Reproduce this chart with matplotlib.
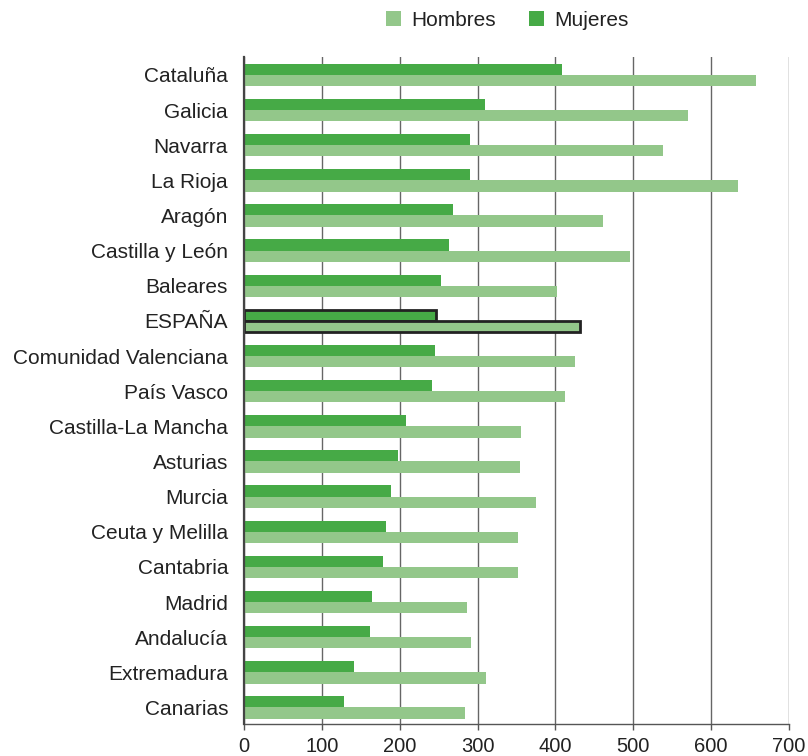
import matplotlib
matplotlib.use("Agg")
import matplotlib.pyplot as plt
from matplotlib.patches import Patch
import numpy as np

plt.rcParams['font.family'] = ['Liberation Sans', 'DejaVu Sans']

regiones = ["Cataluña", "Galicia", "Navarra", "La Rioja", "Aragón",
            "Castilla y León", "Baleares", "ESPAÑA", "Comunidad Valenciana",
            "País Vasco", "Castilla-La Mancha", "Asturias", "Murcia",
            "Ceuta y Melilla", "Cantabria", "Madrid", "Andalucía",
            "Extremadura", "Canarias"]
mujeres = [408, 309, 290, 290, 268, 263, 253, 246, 245, 241, 208, 198, 189,
           182, 178, 164, 162, 141, 128]
hombres = [658, 570, 538, 634, 461, 496, 402, 431, 425, 412, 356, 354, 375,
           352, 352, 286, 291, 311, 284]
ticks_x = [0, 100, 200, 300, 400, 500, 600, 700]

c_muj = "#46aa46"
c_hom = "#93c78a"

fig = plt.figure(figsize=(8.08, 7.56), dpi=100)
ax = fig.add_axes([244 / 808, 1 - 724 / 756, (789 - 244) / 808, (724 - 57) / 756])

y = np.arange(len(regiones))
h = 0.32
destacada = regiones.index("ESPAÑA")
ec_m = ["#222222" if i == destacada else "none" for i in range(len(regiones))]
lw = [2.0 if i == destacada else 0 for i in range(len(regiones))]

ax.barh(y - h / 2, mujeres, height=h, color=c_muj, edgecolor=ec_m, linewidth=lw, zorder=3)
ax.barh(y + h / 2, hombres, height=h, color=c_hom, edgecolor=ec_m, linewidth=lw, zorder=3)

ax.set_xlim(0, 700)
ax.set_ylim(len(regiones) - 1 + 0.47, -0.51)
ax.set_xticks(ticks_x)
ax.set_xticklabels([str(t) for t in ticks_x])
ax.set_yticks(y)
ax.set_yticklabels(regiones)

ax.xaxis.grid(True, color="#666666", linewidth=1.0, zorder=0)
ax.set_axisbelow(True)
for s in ["top", "right"]:
    ax.spines[s].set_visible(False)
ax.spines["left"].set_color("#444444")
ax.spines["left"].set_linewidth(1.6)
ax.spines["left"].set_zorder(4)
ax.spines["bottom"].set_color("#555555")
ax.spines["bottom"].set_linewidth(1.0)

ax.tick_params(axis="y", length=0, pad=11.5, labelsize=15, colors="#222222")
ax.tick_params(axis="x", length=4, width=1, color="#555555", pad=5,
               labelsize=14.5, labelcolor="#222222")

handles = [Patch(facecolor=c_hom, edgecolor="none", label="Hombres"),
           Patch(facecolor=c_muj, edgecolor="none", label="Mujeres")]
fig.legend(handles=handles, loc="center", bbox_to_anchor=(0.628, 1 - 20 / 756),
           ncol=2, frameon=False, fontsize=15, handlelength=0.7, handleheight=0.7,
           handletextpad=0.5, columnspacing=1.6, labelcolor="#222222")

fig.savefig("out.png", dpi=100)
